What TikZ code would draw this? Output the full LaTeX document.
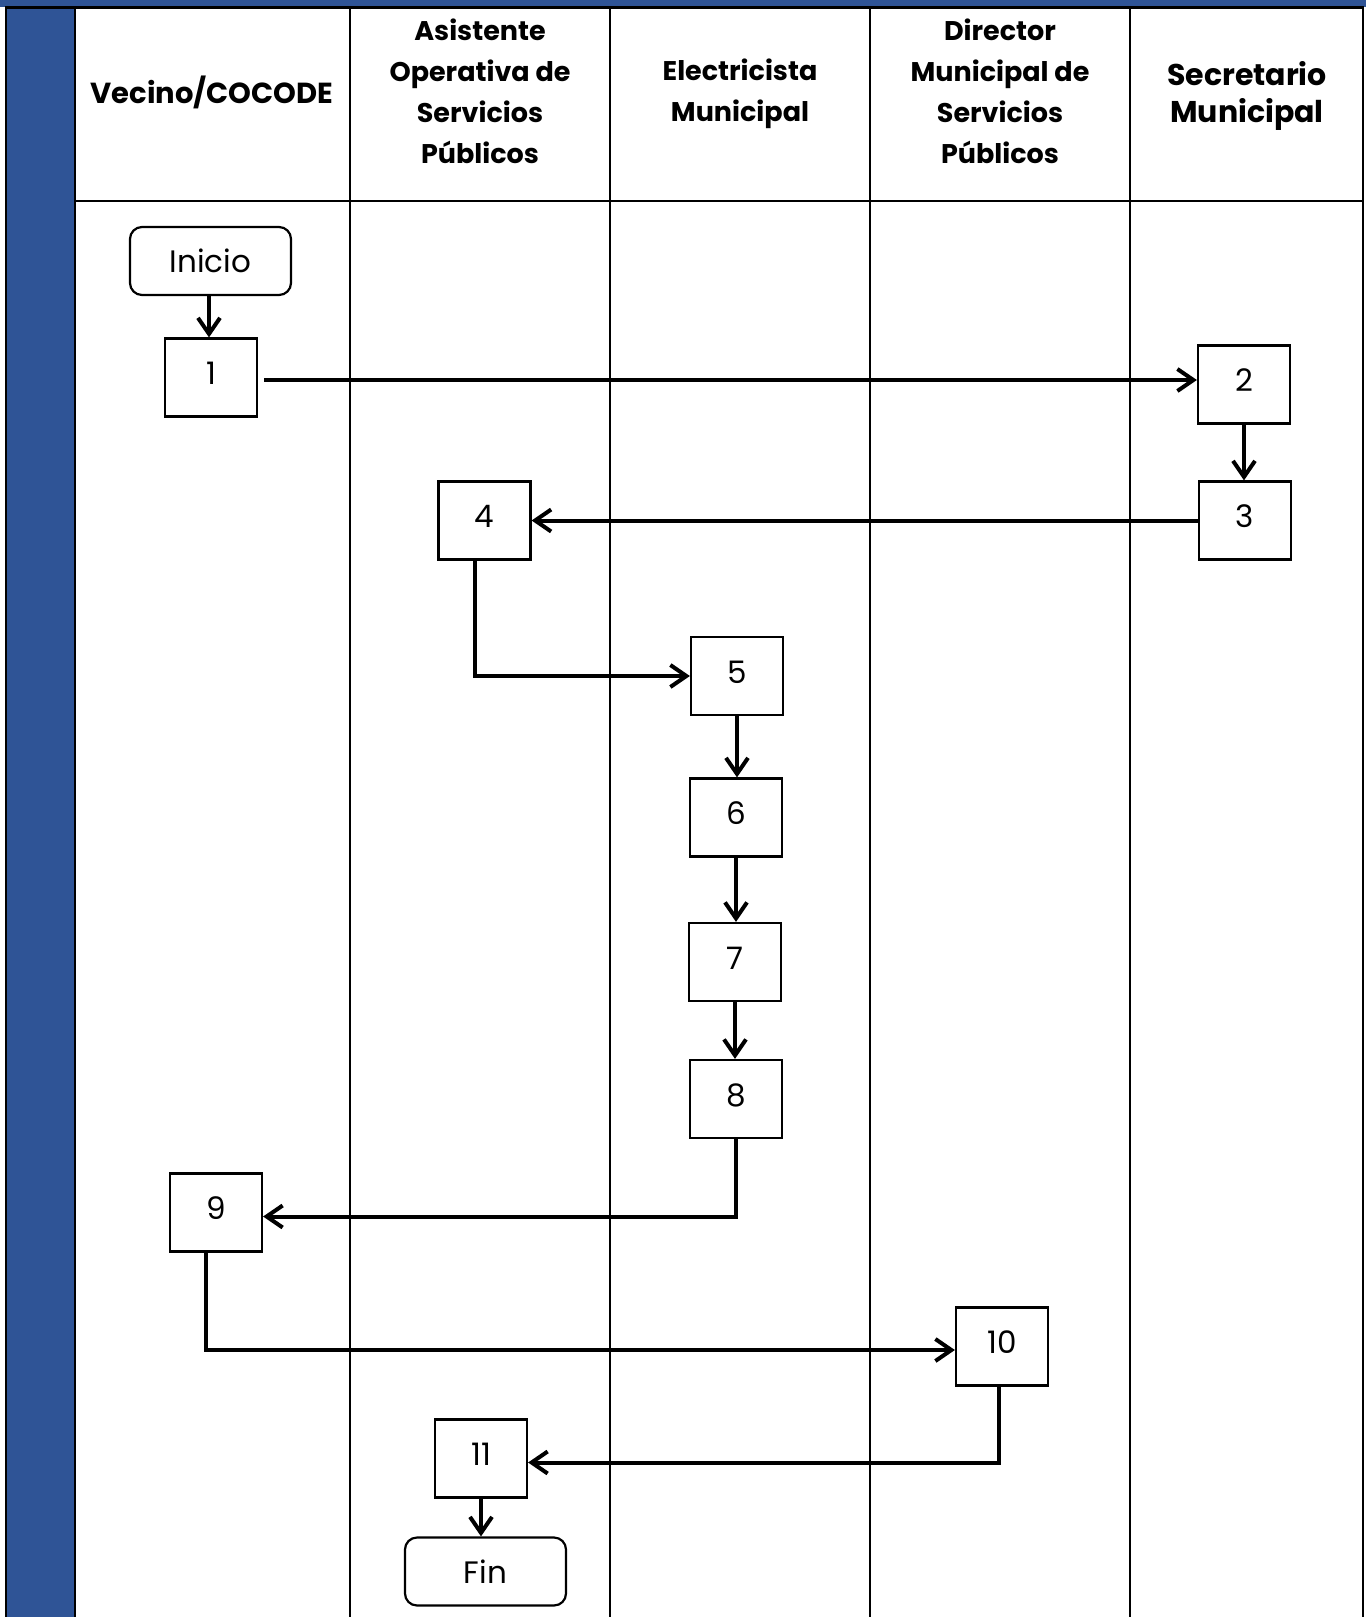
\documentclass[tikz,border=0pt]{standalone}
\usepackage{fontspec}
\setmainfont{Poppins}
\usetikzlibrary{arrows.meta}
\definecolor{bandblue}{HTML}{2F5496}
\begin{document}
\begin{tikzpicture}[x=0.5pt,y=-0.5pt,
  grid/.style={line width=1.25pt,black},
  hdr/.style={font=\fontsize{13.5}{20.5}\selectfont\bfseries,align=center},
  stepbox/.style={draw,line width=1.1pt,minimum width=46pt,minimum height=39pt,inner sep=0pt,font=\fontsize{15.5}{18}\selectfont},
  term/.style={draw,line width=1.1pt,rounded corners=6pt,minimum width=80.5pt,minimum height=34pt,inner sep=0pt,font=\fontsize{15.5}{18}\selectfont},
  conn/.style={line width=2pt,-{Straight Barb[length=8pt,width=11pt,line width=2pt]}}]
\useasboundingbox (0,0) rectangle (1366,1617);
\fill[white] (0,0) rectangle (1366,1617);
% blue band and column
\fill[bandblue] (0,0) rectangle (1366,7);
\fill[bandblue] (6,7) rectangle (75,1617);
% frame and grid
\draw[grid] (6,1617) -- (6,7.5) -- (1363,7.5) -- (1363,1617);
\draw[grid] (75,7.5) -- (75,1617);
\foreach \x in {350,610,870,1130} \draw[grid] (\x,7.5) -- (\x,1617);
\draw[grid] (75,201) -- (1363,201);
% headers
\node[hdr,font=\fontsize{14.5}{20.5}\selectfont\bfseries] (h1) at (212,92) {Vecino/COCODE};
\node[hdr] (h2) at (480,91) {Asistente\\Operativa de\\Servicios\\Públicos};
\node[hdr] (h3) at (740,94) {Electricista\\Municipal};
\node[hdr] (h4) at (1000,91) {Director\\Municipal de\\Servicios\\Públicos};
\node[hdr,font=\fontsize{15}{18.5}\selectfont\bfseries] (h5) at (1247,96) {Secretario\\Municipal};
% steps
\node[term] (ini) at (210.5,261) {Inicio};
\node[stepbox] (b1) at (211,377.5) {\raisebox{4pt}{1}};
\node[stepbox] (b2) at (1244,384.5) {\raisebox{4pt}{2}};
\node[stepbox] (b3) at (1245,520.5) {\raisebox{4pt}{3}};
\node[stepbox] (b4) at (484.5,520.5) {\raisebox{4pt}{4}};
\node[stepbox] (b5) at (737,676) {\raisebox{4pt}{5}};
\node[stepbox] (b6) at (736,817.5) {\raisebox{4pt}{6}};
\node[stepbox] (b7) at (735,962) {\raisebox{4pt}{7}};
\node[stepbox] (b8) at (736,1099) {\raisebox{4pt}{8}};
\node[stepbox] (b9) at (216,1212.5) {\raisebox{4pt}{9}};
\node[stepbox] (b10) at (1002,1346.5) {\raisebox{4pt}{10}};
\node[stepbox] (b11) at (481,1458.5) {\raisebox{4pt}{11}};
\node[term] (fin) at (485.5,1571.5) {Fin};
% connectors
\draw[conn] ([xshift=-0.75pt]ini.south) -- ([xshift=-1pt]b1.north);
\draw[conn,shorten <=3pt] ([yshift=-1.25pt]b1.east) -- ([yshift=-1.25pt]b1.east -| b2.west);
\draw[conn] (b2.south) -- (b2.south |- b3.north);
\draw[conn] (b3.west) -- (b4.east);
\draw[conn] ([xshift=-4.75pt]b4.south) |- (b5.west);
\draw[conn] (b5.south) -- (b5.south |- b6.north);
\draw[conn] (b6.south) -- (b6.south |- b7.north);
\draw[conn] (b7.south) -- (b7.south |- b8.north);
\draw[conn] (b8.south) |- ([yshift=-2pt]b9.east);
\draw[conn] ([xshift=-5pt]b9.south) |- ([yshift=-1.75pt]b10.west);
\draw[conn] ([xshift=-1.5pt]b10.south) |- ([yshift=-2pt]b11.east);
\draw[conn] (b11.south) -- (b11.south |- fin.north);
\end{tikzpicture}
\end{document}
